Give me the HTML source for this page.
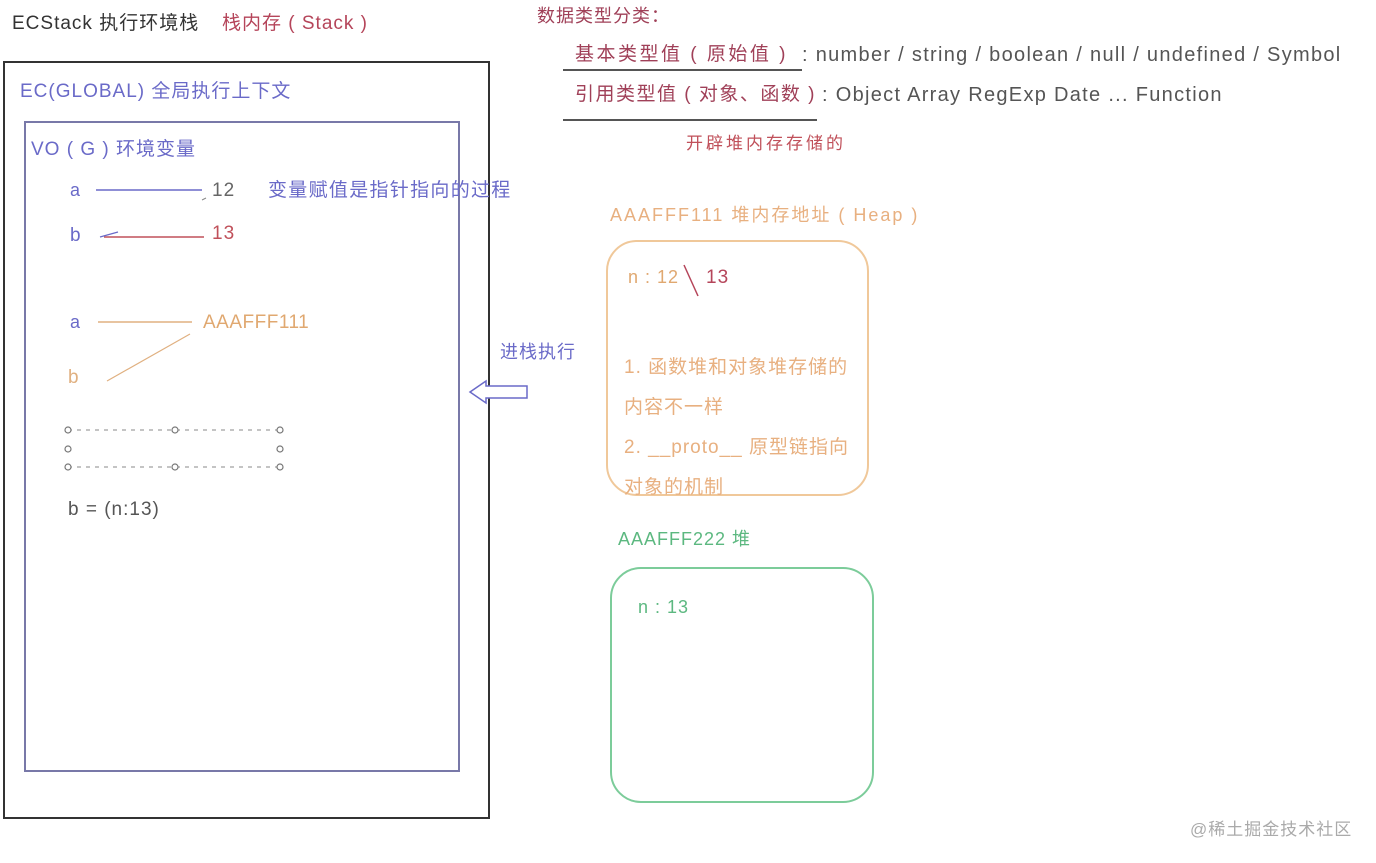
<!DOCTYPE html>
<html><head><meta charset="utf-8"><style>
body{margin:0;width:1376px;height:863px;background:#fff;position:relative;overflow:hidden;font-family:"Liberation Sans","Noto Sans CJK SC",sans-serif;}
.t{position:absolute;white-space:nowrap;line-height:1;letter-spacing:1px;}
.b{position:absolute;box-sizing:border-box;}
</style></head><body>
<div class="t" style="left:12px;top:14px;font-size:19px;color:#333">ECStack 执行环境栈</div>
<div class="t" style="left:222px;top:14px;font-size:19px;color:#b5455a">栈内存 ( Stack )</div>

<div class="b" style="left:3px;top:61px;width:487px;height:758px;border:2px solid #333"></div>
<div class="t" style="left:20px;top:82px;font-size:19px;color:#6a6ac8">EC(GLOBAL)  全局执行上下文</div>
<div class="b" style="left:24px;top:121px;width:436px;height:651px;border:2px solid #7878a8"></div>
<div class="t" style="left:31px;top:140px;font-size:19px;color:#6a6ac8">VO ( G )  环境变量</div>

<div class="t" style="left:70px;top:181px;font-size:18px;color:#6a6ac8">a</div>
<div class="t" style="left:212px;top:181px;font-size:19px;color:#666">12</div>
<div class="t" style="left:268px;top:181px;font-size:19px;color:#6a6ac8;letter-spacing:1.3px">变量赋值是指针指向的过程</div>
<div class="t" style="left:70px;top:226px;font-size:19px;color:#6a6ac8">b</div>
<div class="t" style="left:212px;top:224px;font-size:19px;color:#c0505a">13</div>
<div class="t" style="left:70px;top:313px;font-size:18px;color:#6a6ac8">a</div>
<div class="t" style="left:203px;top:313px;font-size:19px;color:#e0a870;letter-spacing:0.5px">AAAFFF111</div>
<div class="t" style="left:68px;top:368px;font-size:19px;color:#e0b080">b</div>
<div class="t" style="left:68px;top:500px;font-size:19px;color:#555">b = (n:13)</div>
<div class="t" style="left:500px;top:343px;font-size:18px;color:#6a6ac8">进栈执行</div>

<svg class="b" style="left:0;top:0" width="1376" height="863">
<line x1="96" y1="190" x2="202" y2="190" stroke="#6a6ac8" stroke-width="1.5"/>
<line x1="202" y1="200" x2="206" y2="198" stroke="#888" stroke-width="1"/>
<line x1="104" y1="237" x2="204" y2="237" stroke="#c0505a" stroke-width="1.5"/>
<line x1="100" y1="237" x2="118" y2="232" stroke="#6a6ac8" stroke-width="1.2"/>
<line x1="98" y1="322" x2="192" y2="322" stroke="#e0b080" stroke-width="1.5"/>
<line x1="107" y1="381" x2="190" y2="334" stroke="#e0b080" stroke-width="1.2"/>
<g stroke="#888" stroke-dasharray="4,5" stroke-width="1"><line x1="68" y1="430" x2="280" y2="430"/><line x1="68" y1="467" x2="280" y2="467"/></g>
<g fill="#fff" stroke="#777" stroke-width="1.2">
<circle cx="68" cy="430" r="3"/><circle cx="175" cy="430" r="3"/><circle cx="280" cy="430" r="3"/>
<circle cx="68" cy="449" r="3"/><circle cx="280" cy="449" r="3"/>
<circle cx="68" cy="467" r="3"/><circle cx="175" cy="467" r="3"/><circle cx="280" cy="467" r="3"/></g>
<polygon points="470,392 486,381 486,386 527,386 527,398 486,398 486,403" fill="#fff" stroke="#6a6ac8" stroke-width="1.5"/>
<line x1="563" y1="70" x2="802" y2="70" stroke="#555" stroke-width="2"/>
<line x1="563" y1="120" x2="817" y2="120" stroke="#555" stroke-width="2"/>
<rect x="607" y="241" width="261" height="254" rx="30" fill="none" stroke="#f0c89a" stroke-width="2"/>
<rect x="611" y="568" width="262" height="234" rx="30" fill="none" stroke="#7ccc9a" stroke-width="2"/>
<line x1="684" y1="265" x2="698" y2="296" stroke="#b5455a" stroke-width="1.5"/>
</svg>

<div class="t" style="left:537px;top:7px;font-size:18px;color:#a04058">数据类型分类：</div>
<div class="t" style="left:575px;top:45px;font-size:19px;color:#a04058;letter-spacing:2.5px">基本类型值 ( 原始值 )</div>
<div class="t" style="left:802px;top:45px;font-size:20px;color:#555;letter-spacing:1.3px">: number / string / boolean / null / undefined  / Symbol</div>
<div class="t" style="left:575px;top:85px;font-size:19px;color:#a04058;letter-spacing:1.5px">引用类型值 ( 对象、函数 )</div>
<div class="t" style="left:822px;top:85px;font-size:20px;color:#555;letter-spacing:1.3px">: Object  Array  RegExp Date ... Function</div>
<div class="t" style="left:686px;top:135px;font-size:17px;color:#c0505a;letter-spacing:3px">开辟堆内存存储的</div>
<div class="t" style="left:610px;top:206px;font-size:18px;color:#e8b080;letter-spacing:2px">AAAFFF111 堆内存地址 ( Heap )</div>
<div class="t" style="left:628px;top:268px;font-size:18px;color:#e0a870">n : 12</div>
<div class="t" style="left:706px;top:268px;font-size:19px;color:#b5455a">13</div>
<div class="t" style="left:624px;top:348px;font-size:19px;color:#e8b080;line-height:40px;letter-spacing:1px">1. 函数堆和对象堆存储的<br>内容不一样<br>2. __proto__ 原型链指向<br>对象的机制</div>
<div class="t" style="left:618px;top:530px;font-size:18px;color:#5cb880">AAAFFF222  堆</div>
<div class="t" style="left:638px;top:598px;font-size:18px;color:#5cb880">n : 13</div>
<div class="t" style="left:1190px;top:821px;font-size:17px;color:#aaa">@稀土掘金技术社区</div>
</body></html>
